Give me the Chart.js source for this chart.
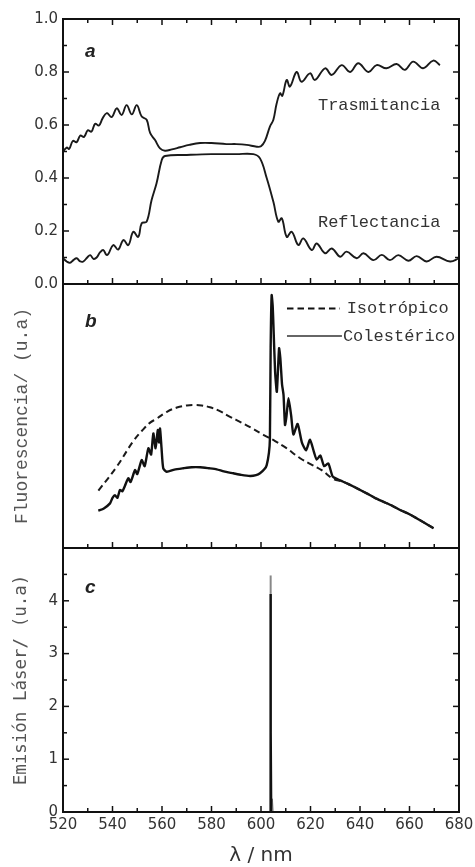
<!DOCTYPE html>
<html>
<head>
<meta charset="utf-8">
<script src="https://cdn.jsdelivr.net/npm/chart.js@4.4.1/dist/chart.umd.min.js"></script>
<style>
  body { margin: 0; background: #fff; }
  canvas { display: block; }
</style>
</head>
<body>
<canvas id="chart" width="475" height="867"></canvas>
<script>
// panel a: transmittance / reflectance
const transX = [520, 521.5, 522.5, 524, 525.5, 527, 528.5, 530, 531.5, 533, 534.5, 536, 537.7, 539.7, 541.7, 543.7, 545.7, 547.8, 549.8, 551.8, 553.8, 555.2, 557.2, 559.2, 561.2, 564, 567.3, 571, 575.4, 580, 586, 590, 594.2, 598.3, 600, 601.6, 603.6, 605, 606.3, 607.7, 608.6, 610.4, 611.7, 614.4, 616.4, 619.8, 621.8, 625.9, 628.6, 632.6, 636, 639.3, 643.4, 646.7, 650.7, 654.8, 658.1, 661.5, 665.5, 669.6, 672.3];
const transY = [0.50, 0.515, 0.51, 0.54, 0.535, 0.56, 0.555, 0.58, 0.575, 0.605, 0.598, 0.625, 0.645, 0.63, 0.663, 0.638, 0.675, 0.64, 0.675, 0.632, 0.62, 0.57, 0.543, 0.512, 0.503, 0.508, 0.516, 0.525, 0.532, 0.532, 0.528, 0.528, 0.525, 0.518, 0.52, 0.54, 0.594, 0.62, 0.68, 0.72, 0.71, 0.77, 0.745, 0.80, 0.763, 0.795, 0.77, 0.814, 0.789, 0.826, 0.80, 0.833, 0.80, 0.826, 0.814, 0.83, 0.808, 0.839, 0.814, 0.843, 0.826];

const reflX = [520, 521.5, 522.8, 524.2, 525.5, 527, 528.2, 529.8, 531, 532.3, 533.6, 535, 536.3, 537.5, 538.3, 540.3, 542.3, 544.4, 546.4, 548.4, 550.4, 551.8, 553.8, 555.8, 557.8, 559.9, 561.2, 570, 580, 590, 596.9, 599.6, 602.3, 605, 607, 608.4, 610.4, 612.4, 615.1, 617.1, 620.5, 622.5, 625.9, 628.6, 632, 634.6, 638.7, 641.4, 645.4, 648.8, 652.1, 655.5, 659.5, 662.9, 666.9, 670.9, 676.4, 680];
const reflY = [0.097, 0.085, 0.08, 0.09, 0.097, 0.085, 0.085, 0.10, 0.109, 0.095, 0.10, 0.12, 0.128, 0.11, 0.113, 0.147, 0.13, 0.166, 0.147, 0.197, 0.178, 0.229, 0.235, 0.317, 0.38, 0.468, 0.483, 0.487, 0.49, 0.49, 0.49, 0.474, 0.40, 0.31, 0.235, 0.248, 0.178, 0.197, 0.147, 0.172, 0.128, 0.153, 0.116, 0.134, 0.103, 0.122, 0.097, 0.116, 0.09, 0.11, 0.09, 0.109, 0.088, 0.105, 0.085, 0.103, 0.085, 0.097];

// panel b: fluorescence
const isoX = [534.3, 541.7, 548.4, 552, 555.2, 557.9, 562, 566, 570, 573, 576, 579.4, 583, 587.5, 591.5, 595.6, 599.6, 602.3, 605.7, 610, 615.8, 620, 624.5, 629.2, 633, 636, 639, 642.7, 646, 649.5, 653, 656.2, 660, 663, 667, 669.7];
const isoY = [0.217, 0.308, 0.405, 0.445, 0.475, 0.49, 0.516, 0.532, 0.54, 0.542, 0.54, 0.533, 0.52, 0.497, 0.478, 0.458, 0.436, 0.422, 0.405, 0.38, 0.34, 0.318, 0.295, 0.262, 0.252, 0.239, 0.225, 0.207, 0.19, 0.175, 0.16, 0.144, 0.128, 0.112, 0.09, 0.075];

const colX = [534.3, 536.5, 539, 540, 541, 542, 543, 544, 545, 546.4, 547.3, 549.1, 550, 551.8, 553, 554.5, 555.6, 556.5, 557.4, 558.3, 558.8, 559.2, 559.8, 560.5, 561.9, 565, 568.6, 572, 575.4, 579, 582.1, 585, 588.8, 592, 595.6, 598, 599.6, 601.5, 602.3, 603.2, 603.6, 603.9, 604.3, 604.7, 605, 605.7, 606.4, 607.3, 607.8, 608.5, 609.1, 609.7, 610.3, 611.1, 612.2, 613.1, 614.8, 616.5, 618.2, 619.8, 621.5, 622.5, 624, 625.5, 627.2, 629, 631, 633, 636, 639, 642.7, 646, 649.5, 653, 656.2, 660, 663, 667, 669.7];
const colY = [0.141, 0.15, 0.169, 0.19, 0.20, 0.19, 0.22, 0.215, 0.235, 0.264, 0.25, 0.295, 0.28, 0.333, 0.31, 0.378, 0.354, 0.434, 0.378, 0.447, 0.40, 0.453, 0.38, 0.302, 0.289, 0.297, 0.302, 0.306, 0.306, 0.302, 0.298, 0.29, 0.283, 0.277, 0.273, 0.276, 0.283, 0.30, 0.314, 0.36, 0.415, 0.76, 0.958, 0.92, 0.85, 0.668, 0.592, 0.756, 0.72, 0.62, 0.58, 0.466, 0.50, 0.567, 0.50, 0.43, 0.47, 0.40, 0.37, 0.41, 0.36, 0.335, 0.35, 0.31, 0.32, 0.27, 0.26, 0.252, 0.239, 0.225, 0.207, 0.19, 0.175, 0.16, 0.144, 0.128, 0.112, 0.09, 0.075];

// panel c: laser emission
const laserX = [603.7, 603.8, 603.9, 604.0, 604.1];
const laserY = [0, 1.5, 4.13, 1.5, 0];
const laserTopX = [603.9, 603.9];
const laserTopY = [4.13, 4.48];
const shoulderX = [604.3, 604.6, 604.9];
const shoulderY = [0, 0.25, 0];

function pts(xs, ys) { return xs.map((x, i) => ({ x: x, y: ys[i] })); }

const tickFont = { family: 'DejaVu Sans', size: 15 };

function fitY(s) { s.width = 63; s.paddingTop = 0; s.paddingBottom = 0; }

const framePlugin = {
  id: 'frames',
  beforeDraw(chart) {
    const ctx = chart.ctx;
    ctx.save();
    ctx.fillStyle = '#fff';
    ctx.fillRect(0, 0, chart.width, chart.height);
    ctx.restore();
  },
  afterDraw(chart) {
    const { ctx, chartArea: ca, scales } = chart;
    const x = scales.x, ya = scales.ya, yb = scales.yb, yc = scales.yc;
    ctx.save();
    ctx.strokeStyle = '#111';
    ctx.lineWidth = 1.5;
    const seg = (x1, y1, x2, y2) => { ctx.beginPath(); ctx.moveTo(x1, y1); ctx.lineTo(x2, y2); ctx.stroke(); };

    // inward x ticks
    for (let v = 520; v <= 680; v += 10) {
      const px = x.getPixelForValue(v);
      const len = v % 20 === 0 ? 6 : 4;
      seg(px, ya.top, px, ya.top + len);
      seg(px, ya.bottom, px, ya.bottom - len);
      seg(px, yb.bottom, px, yb.bottom - len);
      seg(px, yc.bottom, px, yc.bottom - len);
    }
    // inward y ticks, panel a
    for (let i = 1; i < 10; i++) {
      const py = ya.getPixelForValue(i / 10);
      const len = i % 2 === 0 ? 6 : 4;
      seg(ca.left, py, ca.left + len, py);
      seg(ca.right, py, ca.right - len, py);
    }
    // inward y ticks, panel c
    for (let i = 1; i < 10; i++) {
      const py = yc.getPixelForValue(i / 2);
      const len = i % 2 === 0 ? 6 : 4;
      seg(ca.left, py, ca.left + len, py);
      seg(ca.right, py, ca.right - len, py);
    }

    // frames
    ctx.lineWidth = 2;
    [ya, yb, yc].forEach(s => ctx.strokeRect(ca.left, s.top, ca.right - ca.left, s.bottom - s.top));

    // panel letters
    ctx.fillStyle = '#222';
    ctx.font = 'bold italic 19px "Liberation Sans"';
    ctx.textBaseline = 'middle';
    ctx.textAlign = 'left';
    ctx.fillText('a', 85, ya.top + 33);
    ctx.fillText('b', 85, yb.top + 38);
    ctx.fillText('c', 85, yc.top + 40);

    // curve labels
    ctx.fillStyle = '#333';
    ctx.font = '17px "Liberation Mono"';
    ctx.fillText('Trasmitancia', x.getPixelForValue(623), ya.getPixelForValue(0.675));
    ctx.fillText('Reflectancia', x.getPixelForValue(623), ya.getPixelForValue(0.231));

    // legend, panel b
    const lx0 = x.getPixelForValue(610.5), lx1 = x.getPixelForValue(631.9);
    const l1 = yb.getPixelForValue(0.907), l2 = yb.getPixelForValue(0.803);
    ctx.strokeStyle = '#111';
    ctx.setLineDash([6.5, 4]);
    seg(lx0, l1, lx1, l1);
    ctx.setLineDash([]);
    ctx.strokeStyle = '#666';
    seg(lx0, l2, x.getPixelForValue(632.7), l2);
    ctx.fillText('Isotrópico', x.getPixelForValue(634.6), l1);
    ctx.fillText('Colestérico', x.getPixelForValue(633.1), l2);
    ctx.restore();
  }
};

new Chart(document.getElementById('chart').getContext('2d'), {
  type: 'line',
  data: {
    datasets: [
      { data: pts(transX, transY), yAxisID: 'ya', borderColor: '#1a1a1a', borderWidth: 1.9, tension: 0.4 },
      { data: pts(reflX, reflY), yAxisID: 'ya', borderColor: '#1a1a1a', borderWidth: 1.9, tension: 0.4 },
      { data: pts(isoX, isoY), yAxisID: 'yb', borderColor: '#1a1a1a', borderWidth: 2, borderDash: [6.5, 4], tension: 0.4 },
      { data: pts(colX, colY), yAxisID: 'yb', borderColor: '#111', borderWidth: 2.4, tension: 0.2 },
      { data: pts(laserX, laserY), yAxisID: 'yc', borderColor: '#111', borderWidth: 2.5, tension: 0 },
      { data: pts(laserTopX, laserTopY), yAxisID: 'yc', borderColor: '#888', borderWidth: 2, tension: 0 },
      { data: pts(shoulderX, shoulderY), yAxisID: 'yc', borderColor: '#777', borderWidth: 1, tension: 0 }
    ]
  },
  options: {
    responsive: false,
    devicePixelRatio: 1,
    animation: false,
    layout: { padding: { top: 19, right: 16, left: 0, bottom: 0 } },
    elements: { point: { radius: 0 }, line: { fill: false } },
    plugins: { legend: { display: false }, tooltip: { enabled: false } },
    scales: {
      x: {
        type: 'linear',
        position: 'bottom',
        min: 520,
        max: 680,
        afterFit(s) { s.height = 55; s.paddingLeft = 0; s.paddingRight = 0; },
        grid: { display: false, drawTicks: false },
        border: { display: false },
        ticks: { stepSize: 20, color: '#333', font: tickFont, padding: 4, maxRotation: 0, autoSkip: false },
        title: { display: true, text: 'λ / nm', color: '#333', font: { family: 'DejaVu Sans', size: 20 }, padding: { top: 0, bottom: -1 } }
      },
      ya: {
        type: 'linear',
        position: 'left',
        stack: 'panels',
        stackWeight: 265,
        weight: 3,
        min: 0,
        max: 1,
        afterFit: fitY,
        grid: { display: false, drawTicks: false },
        border: { display: false },
        ticks: { stepSize: 0.2, padding: 5, color: '#333', font: tickFont, autoSkip: false, callback: v => v.toFixed(1) }
      },
      yb: {
        type: 'linear',
        position: 'left',
        stack: 'panels',
        stackWeight: 264,
        weight: 2,
        min: 0,
        max: 1,
        afterFit: fitY,
        grid: { display: false, drawTicks: false },
        border: { display: false },
        ticks: { display: false },
        title: { display: true, text: 'Fluorescencia/ (u.a)', color: '#555', font: { family: 'Liberation Mono', size: 18 }, padding: { top: 11, bottom: 0 } }
      },
      yc: {
        type: 'linear',
        position: 'left',
        stack: 'panels',
        stackWeight: 264,
        weight: 1,
        min: 0,
        max: 5,
        afterFit: fitY,
        grid: { display: false, drawTicks: false },
        border: { display: false },
        ticks: { stepSize: 1, padding: 5, color: '#333', font: tickFont, autoSkip: false, callback: v => (v === 5 ? '' : String(v)) },
        title: { display: true, text: 'Emisión Láser/ (u.a)', color: '#555', font: { family: 'DejaVu Sans Mono', size: 17.5 }, padding: { top: 11, bottom: 0 } }
      }
    }
  },
  plugins: [framePlugin]
});
</script>
</body>
</html>
